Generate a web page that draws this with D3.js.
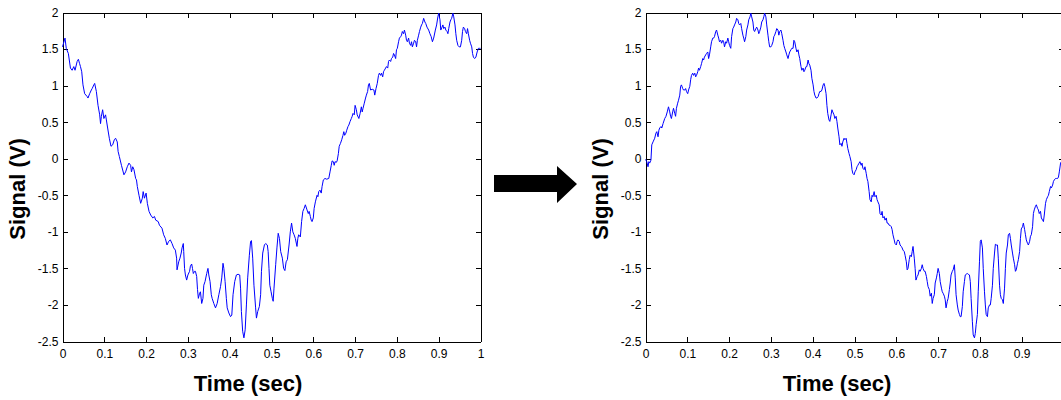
<!DOCTYPE html>
<html>
<head>
<meta charset="utf-8">
<script src="https://cdn.jsdelivr.net/npm/d3@7"></script>
<style>
  html, body { margin: 0; padding: 0; background: #ffffff; }
  svg { display: block; }
  .tick text { font-family: "Liberation Sans", Arial, sans-serif; font-size: 12px; fill: #000; }
  .axis path, .axis line { stroke: #000; stroke-width: 1px; shape-rendering: crispEdges; }
  .title { font-family: "Liberation Sans", Arial, sans-serif; font-size: 22px; font-weight: bold; fill: #000; }
</style>
</head>
<body>
<svg id="chart" width="1061" height="400"></svg>
<script>
// Sampled noisy signal, original timing: [time (s), signal (V)]
const leftSignal = [
  [0.000,1.53],[0.006,1.65],[0.009,1.51],[0.014,1.44],[0.019,1.24],[0.023,1.21],[0.027,1.26],[0.030,1.21],
  [0.035,1.33],[0.038,1.36],[0.041,1.30],[0.043,1.26],[0.046,1.19],[0.049,1.01],[0.053,0.89],[0.059,0.85],
  [0.061,0.83],[0.065,0.89],[0.069,0.94],[0.071,0.96],[0.075,1.01],[0.077,1.03],[0.081,0.92],[0.085,0.73],
  [0.089,0.60],[0.091,0.48],[0.093,0.58],[0.096,0.67],[0.099,0.55],[0.103,0.60],[0.105,0.53],[0.108,0.42],
  [0.112,0.28],[0.116,0.17],[0.120,0.19],[0.124,0.26],[0.127,0.28],[0.131,0.23],[0.133,0.10],[0.136,0.03],
  [0.141,-0.09],[0.147,-0.22],[0.151,-0.18],[0.155,-0.11],[0.159,-0.06],[0.163,-0.09],[0.165,-0.18],[0.168,-0.11],
  [0.171,-0.15],[0.175,-0.27],[0.177,-0.29],[0.179,-0.38],[0.183,-0.50],[0.187,-0.61],[0.191,-0.54],[0.193,-0.45],
  [0.196,-0.54],[0.200,-0.47],[0.203,-0.61],[0.207,-0.72],[0.211,-0.77],[0.216,-0.81],[0.220,-0.79],[0.223,-0.84],
  [0.229,-0.86],[0.232,-0.91],[0.238,-0.95],[0.242,-1.04],[0.246,-1.09],[0.250,-1.18],[0.254,-1.13],[0.258,-1.11],
  [0.262,-1.16],[0.266,-1.22],[0.270,-1.25],[0.273,-1.36],[0.274,-1.52],[0.278,-1.41],[0.281,-1.36],[0.284,-1.29],
  [0.286,-1.22],[0.289,-1.16],[0.290,-1.27],[0.292,-1.50],[0.294,-1.59],[0.297,-1.66],[0.300,-1.59],[0.304,-1.54],
  [0.306,-1.47],[0.309,-1.44],[0.311,-1.50],[0.313,-1.57],[0.316,-1.54],[0.318,-1.54],[0.321,-1.61],[0.323,-1.79],
  [0.325,-1.91],[0.328,-1.84],[0.330,-1.82],[0.333,-1.98],[0.336,-1.91],[0.338,-1.73],[0.341,-1.68],[0.345,-1.57],
  [0.348,-1.50],[0.350,-1.59],[0.353,-1.68],[0.356,-1.86],[0.358,-1.91],[0.362,-1.98],[0.366,-2.04],[0.370,-1.98],
  [0.374,-1.86],[0.378,-1.75],[0.381,-1.63],[0.384,-1.43],[0.386,-1.50],[0.389,-1.68],[0.392,-1.91],[0.394,-2.04],
  [0.398,-2.11],[0.402,-2.16],[0.405,-2.14],[0.408,-1.86],[0.412,-1.68],[0.416,-1.59],[0.420,-1.58],[0.424,-1.59],
  [0.426,-1.77],[0.428,-2.09],[0.431,-2.36],[0.434,-2.45],[0.437,-2.34],[0.440,-2.00],[0.443,-1.63],[0.447,-1.32],
  [0.450,-1.13],[0.452,-1.12],[0.455,-1.36],[0.458,-1.73],[0.462,-2.04],[0.464,-2.18],[0.467,-2.09],[0.471,-2.02],
  [0.474,-1.86],[0.476,-1.54],[0.479,-1.29],[0.483,-1.18],[0.486,-1.16],[0.490,-1.18],[0.492,-1.27],[0.494,-1.50],
  [0.496,-1.73],[0.499,-1.82],[0.502,-1.91],[0.504,-1.95],[0.506,-1.77],[0.510,-1.45],[0.513,-1.22],[0.516,-1.02],
  [0.519,-1.09],[0.522,-1.27],[0.526,-1.36],[0.529,-1.50],[0.532,-1.53],[0.535,-1.41],[0.538,-1.38],[0.542,-1.18],
  [0.545,-1.00],[0.548,-0.88],[0.551,-1.00],[0.554,-1.04],[0.557,-1.09],[0.561,-1.20],[0.563,-1.09],[0.565,-1.04],
  [0.569,-1.07],[0.572,-0.86],[0.575,-0.72],[0.578,-0.68],[0.581,-0.63],[0.585,-0.70],[0.588,-0.75],[0.590,-0.72],
  [0.593,-0.79],[0.595,-0.84],[0.597,-0.86],[0.600,-0.81],[0.602,-0.68],[0.605,-0.59],[0.609,-0.50],[0.611,-0.52],
  [0.613,-0.45],[0.616,-0.43],[0.619,-0.47],[0.621,-0.38],[0.624,-0.29],[0.628,-0.27],[0.632,-0.28],[0.637,-0.27],
  [0.640,-0.18],[0.643,-0.09],[0.645,-0.03],[0.648,-0.04],[0.650,-0.09],[0.652,-0.04],[0.655,-0.05],[0.657,-0.03],
  [0.660,0.07],[0.662,0.17],[0.665,0.21],[0.668,0.26],[0.671,0.32],[0.673,0.37],[0.675,0.32],[0.678,0.35],
  [0.680,0.39],[0.683,0.44],[0.685,0.46],[0.688,0.51],[0.691,0.55],[0.693,0.58],[0.695,0.62],[0.698,0.60],
  [0.700,0.73],[0.703,0.67],[0.705,0.60],[0.709,0.55],[0.712,0.62],[0.715,0.71],[0.717,0.64],[0.719,0.69],
  [0.722,0.76],[0.725,0.83],[0.727,0.87],[0.730,0.92],[0.732,1.01],[0.734,1.03],[0.737,0.94],[0.741,0.95],
  [0.745,0.94],[0.747,0.87],[0.750,0.96],[0.753,1.03],[0.756,1.14],[0.758,1.17],[0.761,1.14],[0.763,1.17],
  [0.766,1.12],[0.768,1.19],[0.770,1.21],[0.773,1.24],[0.775,1.26],[0.778,1.24],[0.780,1.33],[0.782,1.35],
  [0.785,1.33],[0.787,1.37],[0.790,1.39],[0.792,1.44],[0.794,1.42],[0.797,1.37],[0.799,1.49],[0.801,1.51],
  [0.804,1.60],[0.806,1.65],[0.809,1.67],[0.811,1.69],[0.813,1.74],[0.816,1.71],[0.818,1.76],[0.821,1.69],
  [0.823,1.62],[0.825,1.60],[0.828,1.65],[0.830,1.58],[0.833,1.55],[0.835,1.60],[0.837,1.53],[0.840,1.58],
  [0.842,1.62],[0.845,1.60],[0.847,1.53],[0.849,1.62],[0.852,1.69],[0.854,1.74],[0.857,1.80],[0.859,1.83],
  [0.861,1.85],[0.864,1.92],[0.867,1.87],[0.869,1.85],[0.872,1.80],[0.876,1.76],[0.879,1.71],[0.882,1.67],
  [0.885,1.60],[0.888,1.65],[0.892,1.76],[0.895,1.83],[0.898,1.94],[0.900,1.99],[0.903,1.90],[0.905,1.76],
  [0.908,1.80],[0.910,1.83],[0.912,1.78],[0.915,1.80],[0.917,1.76],[0.920,1.74],[0.922,1.71],[0.924,1.78],
  [0.927,1.87],[0.929,1.90],[0.931,1.92],[0.934,1.99],[0.936,1.94],[0.939,1.83],[0.941,1.71],[0.943,1.62],
  [0.946,1.55],[0.949,1.53],[0.952,1.53],[0.955,1.62],[0.957,1.74],[0.959,1.80],[0.962,1.78],[0.964,1.74],
  [0.967,1.71],[0.969,1.78],[0.971,1.71],[0.974,1.62],[0.976,1.58],[0.979,1.53],[0.981,1.44],[0.983,1.39],
  [0.986,1.37],[0.989,1.39],[0.992,1.46],[0.995,1.51],[0.998,1.51],[1.000,1.51]
];

// The same signal after the time shift: [time (s), signal (V)]
const rightSignal = [
  [0.000,-0.01],[0.003,-0.04],[0.006,-0.11],[0.008,-0.04],[0.010,-0.06],[0.013,-0.02],[0.015,0.19],[0.018,0.23],
  [0.022,0.28],[0.025,0.35],[0.027,0.37],[0.030,0.30],[0.032,0.39],[0.034,0.42],[0.037,0.44],[0.039,0.42],
  [0.042,0.48],[0.046,0.55],[0.049,0.58],[0.052,0.64],[0.055,0.71],[0.058,0.64],[0.060,0.58],[0.062,0.55],
  [0.065,0.64],[0.067,0.69],[0.070,0.62],[0.072,0.58],[0.074,0.69],[0.077,0.76],[0.079,0.80],[0.082,0.87],
  [0.084,0.99],[0.086,1.01],[0.089,0.96],[0.091,0.94],[0.094,0.94],[0.096,0.96],[0.098,0.92],[0.101,0.89],
  [0.103,0.94],[0.106,0.99],[0.108,1.08],[0.110,1.14],[0.113,1.17],[0.115,1.14],[0.118,1.17],[0.120,1.12],
  [0.122,1.14],[0.125,1.19],[0.127,1.24],[0.129,1.21],[0.132,1.26],[0.134,1.30],[0.137,1.37],[0.139,1.35],
  [0.141,1.39],[0.144,1.42],[0.146,1.44],[0.149,1.46],[0.151,1.37],[0.153,1.42],[0.156,1.53],[0.158,1.60],
  [0.161,1.65],[0.163,1.65],[0.165,1.67],[0.168,1.74],[0.170,1.76],[0.173,1.69],[0.175,1.65],[0.177,1.60],
  [0.180,1.62],[0.182,1.58],[0.185,1.62],[0.187,1.60],[0.189,1.53],[0.192,1.60],[0.194,1.58],[0.197,1.65],
  [0.199,1.60],[0.201,1.55],[0.204,1.51],[0.206,1.67],[0.209,1.78],[0.211,1.80],[0.213,1.83],[0.216,1.87],
  [0.218,1.92],[0.221,1.90],[0.223,1.85],[0.225,1.83],[0.228,1.85],[0.230,1.78],[0.233,1.69],[0.235,1.65],
  [0.237,1.60],[0.240,1.67],[0.242,1.76],[0.245,1.83],[0.247,1.90],[0.250,1.94],[0.252,1.99],[0.254,1.94],
  [0.257,1.87],[0.259,1.76],[0.261,1.74],[0.264,1.78],[0.266,1.80],[0.269,1.76],[0.271,1.71],[0.273,1.74],
  [0.276,1.80],[0.278,1.87],[0.281,1.90],[0.283,1.94],[0.285,1.99],[0.288,1.94],[0.290,1.83],[0.293,1.69],
  [0.295,1.60],[0.297,1.53],[0.300,1.53],[0.302,1.55],[0.305,1.60],[0.307,1.67],[0.309,1.69],[0.312,1.74],
  [0.314,1.78],[0.317,1.76],[0.319,1.69],[0.321,1.74],[0.324,1.76],[0.326,1.71],[0.329,1.62],[0.331,1.55],
  [0.333,1.51],[0.336,1.46],[0.338,1.42],[0.341,1.37],[0.343,1.42],[0.345,1.46],[0.348,1.49],[0.350,1.51],
  [0.353,1.51],[0.355,1.62],[0.357,1.60],[0.360,1.51],[0.362,1.46],[0.365,1.49],[0.367,1.42],[0.369,1.37],
  [0.372,1.26],[0.374,1.21],[0.377,1.24],[0.379,1.19],[0.381,1.21],[0.384,1.26],[0.386,1.26],[0.389,1.35],
  [0.391,1.30],[0.393,1.28],[0.396,1.21],[0.398,1.10],[0.401,1.01],[0.403,0.92],[0.405,0.87],[0.408,0.83],
  [0.410,0.83],[0.413,0.85],[0.415,0.89],[0.417,0.92],[0.420,0.92],[0.422,0.94],[0.425,1.01],[0.427,1.03],
  [0.429,0.99],[0.432,0.89],[0.434,0.73],[0.436,0.62],[0.439,0.53],[0.441,0.51],[0.444,0.60],[0.446,0.67],
  [0.448,0.64],[0.451,0.60],[0.453,0.55],[0.456,0.58],[0.458,0.51],[0.460,0.42],[0.463,0.30],[0.465,0.19],
  [0.468,0.21],[0.470,0.17],[0.472,0.23],[0.475,0.28],[0.477,0.26],[0.480,0.28],[0.482,0.21],[0.484,0.14],
  [0.487,0.07],[0.489,0.03],[0.492,-0.04],[0.494,-0.15],[0.496,-0.20],[0.499,-0.22],[0.501,-0.18],[0.504,-0.15],
  [0.506,-0.11],[0.508,-0.09],[0.511,-0.06],[0.513,-0.04],[0.516,-0.09],[0.518,-0.06],[0.520,-0.13],[0.523,-0.15],
  [0.525,-0.11],[0.528,-0.20],[0.530,-0.27],[0.532,-0.31],[0.535,-0.45],[0.537,-0.56],[0.540,-0.59],[0.542,-0.50],
  [0.544,-0.52],[0.547,-0.45],[0.549,-0.52],[0.552,-0.50],[0.554,-0.56],[0.556,-0.59],[0.559,-0.63],[0.561,-0.75],
  [0.564,-0.77],[0.566,-0.72],[0.568,-0.81],[0.571,-0.79],[0.573,-0.84],[0.576,-0.81],[0.578,-0.88],[0.580,-0.88],
  [0.583,-0.91],[0.585,-0.91],[0.588,-0.93],[0.590,-0.97],[0.592,-1.04],[0.595,-1.11],[0.597,-1.16],[0.600,-1.18],
  [0.602,-1.13],[0.604,-1.11],[0.607,-1.13],[0.609,-1.18],[0.612,-1.20],[0.614,-1.22],[0.616,-1.25],[0.619,-1.27],
  [0.621,-1.32],[0.624,-1.41],[0.626,-1.52],[0.628,-1.50],[0.631,-1.38],[0.633,-1.32],[0.636,-1.34],[0.638,-1.27],
  [0.640,-1.20],[0.643,-1.36],[0.645,-1.50],[0.647,-1.66],[0.650,-1.61],[0.652,-1.59],[0.655,-1.52],[0.657,-1.54],
  [0.660,-1.50],[0.662,-1.45],[0.664,-1.50],[0.667,-1.54],[0.669,-1.54],[0.672,-1.61],[0.674,-1.68],[0.676,-1.75],
  [0.679,-1.79],[0.681,-1.88],[0.684,-1.84],[0.686,-1.98],[0.688,-1.91],[0.691,-1.86],[0.693,-1.70],[0.696,-1.63],
  [0.698,-1.57],[0.700,-1.50],[0.703,-1.57],[0.705,-1.68],[0.708,-1.77],[0.710,-1.82],[0.712,-1.84],[0.715,-1.88],
  [0.717,-1.93],[0.719,-2.04],[0.722,-1.95],[0.724,-1.91],[0.727,-1.79],[0.729,-1.70],[0.731,-1.59],[0.734,-1.54],
  [0.736,-1.52],[0.739,-1.45],[0.741,-1.63],[0.743,-1.86],[0.746,-2.00],[0.748,-2.07],[0.751,-2.13],[0.753,-2.16],
  [0.755,-2.16],[0.758,-2.02],[0.760,-1.82],[0.763,-1.68],[0.765,-1.59],[0.767,-1.58],[0.770,-1.57],[0.772,-1.58],
  [0.775,-1.59],[0.777,-1.68],[0.779,-1.91],[0.782,-2.23],[0.784,-2.41],[0.787,-2.45],[0.789,-2.39],[0.791,-2.27],
  [0.794,-2.13],[0.796,-1.82],[0.799,-1.41],[0.801,-1.13],[0.803,-1.11],[0.806,-1.22],[0.808,-1.50],[0.811,-1.82],
  [0.813,-2.00],[0.815,-2.13],[0.818,-2.16],[0.820,-2.04],[0.823,-2.00],[0.825,-2.00],[0.827,-1.91],[0.830,-1.73],
  [0.832,-1.50],[0.835,-1.29],[0.837,-1.17],[0.839,-1.18],[0.842,-1.18],[0.844,-1.36],[0.847,-1.73],[0.849,-1.86],
  [0.851,-1.91],[0.854,-1.93],[0.856,-1.98],[0.859,-1.77],[0.861,-1.50],[0.863,-1.29],[0.866,-1.18],[0.868,-1.04],
  [0.871,-1.02],[0.873,-1.09],[0.875,-1.18],[0.878,-1.29],[0.880,-1.36],[0.883,-1.45],[0.885,-1.54],[0.887,-1.52],
  [0.890,-1.43],[0.892,-1.38],[0.895,-1.27],[0.897,-1.09],[0.899,-0.96],[0.902,-0.93],[0.904,-0.88],[0.907,-0.97],
  [0.909,-1.04],[0.911,-1.11],[0.914,-1.16],[0.916,-1.18],[0.919,-1.13],[0.921,-1.06],[0.923,-1.04],[0.926,-0.93],
  [0.928,-0.75],[0.930,-0.70],[0.933,-0.65],[0.935,-0.63],[0.938,-0.68],[0.940,-0.70],[0.942,-0.75],[0.945,-0.72],
  [0.947,-0.81],[0.950,-0.84],[0.952,-0.86],[0.954,-0.77],[0.957,-0.61],[0.959,-0.56],[0.962,-0.52],[0.964,-0.50],
  [0.966,-0.45],[0.969,-0.38],[0.971,-0.40],[0.974,-0.36],[0.976,-0.31],[0.978,-0.29],[0.981,-0.27],[0.983,-0.27],
  [0.986,-0.27],[0.988,-0.25],[0.990,-0.18],[0.993,-0.06],[0.995,-0.04],[0.998,0.00],[1.000,0.00]
];

// Axis ticks and their printed labels
const timeTicks = [0, 0.1, 0.2, 0.3, 0.4, 0.5, 0.6, 0.7, 0.8, 0.9, 1];
const timeTickLabels = ["0", "0.1", "0.2", "0.3", "0.4", "0.5", "0.6", "0.7", "0.8", "0.9", "1"];
const voltTicks = [-2.5, -2, -1.5, -1, -0.5, 0, 0.5, 1, 1.5, 2];
const voltTickLabels = ["-2.5", "-2", "-1.5", "-1", "-0.5", "0", "0.5", "1", "1.5", "2"];
const timeDomain = [0, 1];
const voltDomain = [-2.5, 2];
const xTitle = "Time (sec)";
const yTitle = "Signal (V)";

const svg = d3.select("#chart");
svg.append("rect").attr("width", 1061).attr("height", 400).attr("fill", "#fff");

const plotTop = 12.5, plotBottom = 341.5, plotWidth = 418;

function drawPanel(series, left, titleCenterX) {
  const x = d3.scaleLinear().domain(timeDomain).range([left, left + plotWidth]);
  const y = d3.scaleLinear().domain(voltDomain).range([plotBottom, plotTop]);
  const g = svg.append("g");

  const xFmt = d => timeTickLabels[timeTicks.indexOf(d)];
  const yFmt = d => voltTickLabels[voltTicks.indexOf(d)];

  // bottom axis with labels, ticks pointing inward
  g.append("g").attr("class", "axis")
    .attr("transform", `translate(0,${plotBottom})`)
    .call(d3.axisBottom(x).tickValues(timeTicks).tickFormat(xFmt)
      .tickSizeInner(-5).tickSizeOuter(0).tickPadding(8));
  // top axis: ticks only
  g.append("g").attr("class", "axis")
    .attr("transform", `translate(0,${plotTop})`)
    .call(d3.axisTop(x).tickValues(timeTicks).tickFormat("")
      .tickSizeInner(-5).tickSizeOuter(0));
  // left axis with labels
  g.append("g").attr("class", "axis")
    .attr("transform", `translate(${left},0)`)
    .call(d3.axisLeft(y).tickValues(voltTicks).tickFormat(yFmt)
      .tickSizeInner(-5).tickSizeOuter(0).tickPadding(4));
  // right axis: ticks only
  g.append("g").attr("class", "axis")
    .attr("transform", `translate(${left + plotWidth},0)`)
    .call(d3.axisRight(y).tickValues(voltTicks).tickFormat("")
      .tickSizeInner(-5).tickSizeOuter(0));

  g.selectAll(".axis .tick text").attr("fill", "#000");

  // signal trace
  const line = d3.line().x(d => x(d[0])).y(d => y(d[1]));
  g.append("path")
    .datum(series)
    .attr("d", line)
    .attr("fill", "none")
    .attr("stroke", "#0000ff")
    .attr("stroke-width", 1)
    .attr("stroke-linejoin", "round");

  // axis titles
  g.append("text").attr("class", "title")
    .attr("x", titleCenterX).attr("y", 391)
    .attr("text-anchor", "middle")
    .text(xTitle);
  g.append("text").attr("class", "title")
    .attr("transform", `translate(${left - 37.5},189) rotate(-90)`)
    .attr("text-anchor", "middle")
    .text(yTitle);
}

drawPanel(leftSignal, 62.5, 248);
drawPanel(rightSignal, 645.5, 837);

// arrow between the two panels
const arrow = d3.path();
arrow.moveTo(494, 175);
arrow.lineTo(557, 175);
arrow.lineTo(557, 166);
arrow.lineTo(577, 184);
arrow.lineTo(557, 203);
arrow.lineTo(557, 192);
arrow.lineTo(494, 192);
arrow.closePath();
svg.append("path").attr("d", arrow.toString()).attr("fill", "#000");
</script>
</body>
</html>
